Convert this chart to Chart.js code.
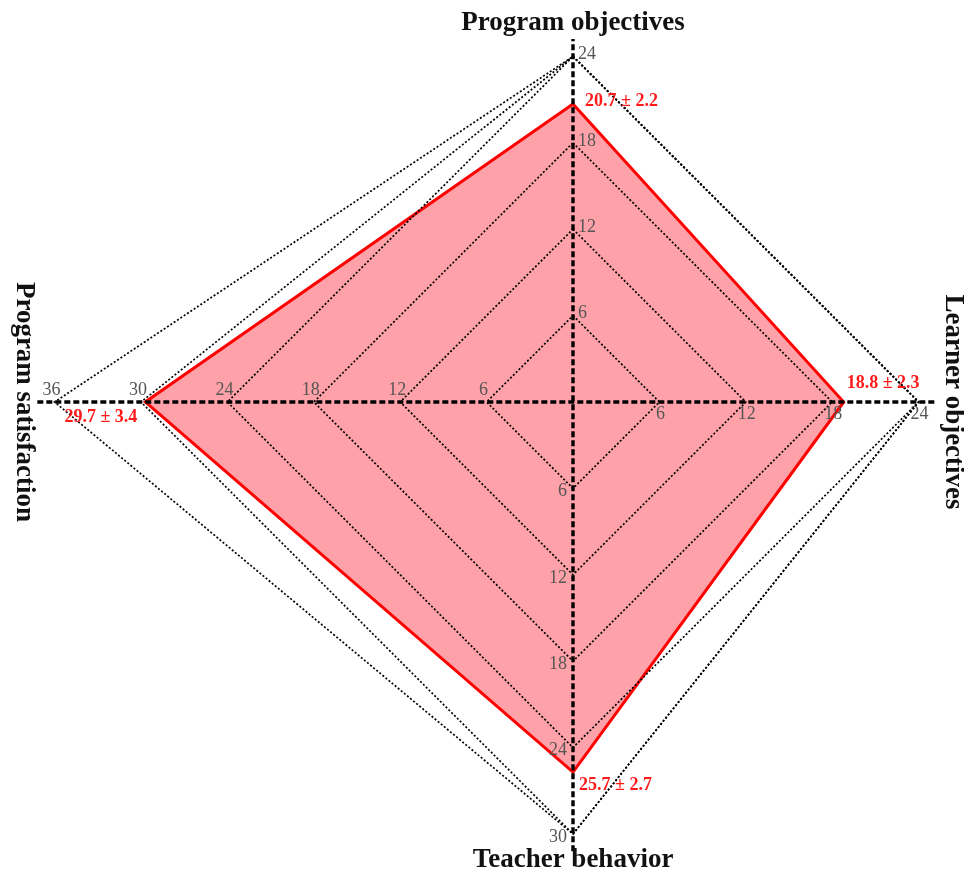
<!DOCTYPE html>
<html>
<head>
<meta charset="utf-8">
<script src="https://cdn.jsdelivr.net/npm/chart.js@4"></script>
<style>
  html, body { margin: 0; padding: 0; background: #fff; }
  #wrap { width: 964px; height: 873px; }
</style>
</head>
<body>
<div id="wrap"><canvas id="radar"></canvas></div>
<script>
// axes go clockwise from the top
const axisNames = ['Program objectives', 'Learner objectives', 'Teacher behavior', 'Program satisfaction'];
const axisMax = [24, 24, 30, 36];
const ringValues = [6, 12, 18, 24, 30, 36];
const tickLabels = [
  [6, 12, 18, 24],
  [6, 12, 18, 24],
  [6, 12, 18, 24, 30],
  [6, 12, 18, 24, 30, 36]
];
const meanValues = [20.7, 18.8, 25.7, 29.7];
const sdValues = [2.2, 2.3, 2.7, 3.4];

const dirs = [[0, 1], [1, 0], [0, -1], [-1, 0]];
const toPoint = (i, v) => ({ x: dirs[i][0] * v, y: dirs[i][1] * v });

// layout: centre of the web and pixels per unit
const CX = 573, CY = 402, K = 14.4;
const W = 964, H = 873;

const serif = '"Liberation Serif", "Times New Roman", serif';

const polygon = meanValues.map((v, i) => toPoint(i, v));
polygon.push(polygon[0]);

const ringSets = ringValues.map(r => {
  const pts = axisMax.map((m, i) => toPoint(i, Math.min(r, m)));
  pts.push(pts[0]);
  return {
    data: pts, showLine: true, pointRadius: 0, borderColor: '#000',
    borderWidth: 1.7, borderDash: [2, 2], fill: false, order: 1
  };
});

const ext = 1.2;
const axisSets = [
  [{ x: 0, y: -(axisMax[2] + ext) }, { x: 0, y: axisMax[0] + ext }],
  [{ x: -(axisMax[3] + ext), y: 0 }, { x: axisMax[1] + ext, y: 0 }]
].map(d => ({
  data: d, showLine: true, pointRadius: 0, borderColor: '#000',
  borderWidth: 3.4, borderDash: [6, 3], fill: false, order: 0
}));

const labelPlugin = {
  id: 'radarLabels',
  afterDatasetsDraw(chart) {
    const { ctx, scales: { x, y } } = chart;
    const px = v => x.getPixelForValue(v);
    const py = v => y.getPixelForValue(v);
    ctx.save();

    // tick labels
    ctx.font = '18px ' + serif;
    ctx.fillStyle = '#555';
    ctx.textBaseline = 'middle';
    tickLabels.forEach((ticks, i) => {
      ticks.forEach(t => {
        const p = toPoint(i, t);
        const X = px(p.x), Y = py(p.y);
        if (i === 0) { ctx.textAlign = 'left'; ctx.fillText(t, X + 5, Y - 2); }
        if (i === 1) { ctx.textAlign = 'center'; ctx.fillText(t, X + 1, Y + 12); }
        if (i === 2) { ctx.textAlign = 'right'; ctx.fillText(t, X - 6, Y + 3); }
        if (i === 3) { ctx.textAlign = 'center'; ctx.fillText(t, X - 3, Y - 12); }
      });
    });

    // value labels
    ctx.font = 'bold 18px ' + serif;
    ctx.fillStyle = '#ff1a1a';
    const offs = [[12, -3, 'left'], [3, -19, 'left'], [6, 13, 'left'], [-8, 15, 'right']];
    meanValues.forEach((m, i) => {
      const p = toPoint(i, m);
      const txt = m.toFixed(1) + ' \u00b1 ' + sdValues[i].toFixed(1);
      ctx.textAlign = offs[i][2];
      ctx.fillText(txt, px(p.x) + offs[i][0], py(p.y) + offs[i][1]);
    });

    // axis titles
    ctx.font = 'bold 27px ' + serif;
    ctx.fillStyle = '#111';
    ctx.textAlign = 'center';
    ctx.textBaseline = 'alphabetic';
    ctx.fillText(axisNames[0], px(0), 30);
    ctx.fillText(axisNames[2], px(0), 867);
    [[1, 946], [3, 17]].forEach(([i, bx]) => {
      ctx.save();
      ctx.translate(bx, py(0));
      ctx.rotate(Math.PI / 2);
      ctx.fillText(axisNames[i], 0, 0);
      ctx.restore();
    });
    ctx.restore();
  }
};

new Chart(document.getElementById('radar'), {
  type: 'scatter',
  data: {
    datasets: [
      {
        data: polygon, showLine: true, pointRadius: 0,
        borderColor: '#ff0000', borderWidth: 3,
        backgroundColor: 'rgba(255, 0, 20, 0.37)', fill: 'shape', order: 10
      },
      ...ringSets,
      ...axisSets
    ]
  },
  options: {
    responsive: true,
    maintainAspectRatio: false,
    animation: false,
    events: [],
    layout: { padding: 0 },
    plugins: { legend: { display: false }, tooltip: { enabled: false } },
    scales: {
      x: { type: 'linear', display: false, min: -CX / K, max: (W - CX) / K },
      y: { type: 'linear', display: false, min: -(H - CY) / K, max: CY / K }
    }
  },
  plugins: [labelPlugin]
});
</script>
</body>
</html>
